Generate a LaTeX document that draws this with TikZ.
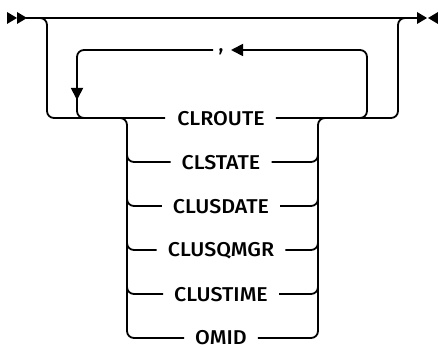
\documentclass[tikz,border=0pt]{standalone}
\usepackage{fontspec}
\usepackage{graphicx}
\setmainfont{Fira Sans}[UprightFont={* Medium}]
\usetikzlibrary{arrows.meta}
\newcommand{\kwtext}[1]{\scalebox{1.07}[1]{#1}}
\begin{document}
\begin{tikzpicture}[x=1pt,y=-1pt,
  ln/.style={line width=1.8pt, rounded corners=7pt},
  kw/.style={font=\fontsize{20}{24}\selectfont, inner sep=0pt, anchor=center},
  tip/.style={fill=black, draw=none},
  ah/.tip={Triangle[length=12pt,width=12pt]}]
\useasboundingbox (0,0) rectangle (438,347);
% start / end symbols
\fill[tip] (7,12) -- (17,18) -- (7,24) -- cycle;
\fill[tip] (17,12) -- (27,18) -- (17,24) -- cycle;
\fill[tip] (417,12) -- (427,18) -- (417,24) -- cycle;
\fill[tip] (438,12) -- (428,18) -- (438,24) -- cycle;
\coordinate (s) at (26,18);
\coordinate (e) at (418,18);
\draw[ln] (s) -- (e);
% keywords
\node[kw] (k1) at (221,119) {\kwtext{CLROUTE}};
\node[kw] (k2) at (221,163) {\kwtext{CLSTATE}};
\node[kw] (k3) at (221,207) {\kwtext{CLUSDATE}};
\node[kw] (k4) at (221,251) {\kwtext{CLUSQMGR}};
\node[kw] (k5) at (221,295) {\kwtext{CLUSTIME}};
\node[kw] (k6) at (221,338) {\kwtext{OMID}};
% comma
\node[kw, anchor=base] (cm) at (221,52) {,};
\coordinate (cl) at (213,50);
\coordinate (cr) at (231,50);
% outer bypass
\draw[ln] (34,18) -| (47,118) -- ([xshift=-12pt]k1.west |- 0,118);
\draw[ln] ([xshift=11pt]k1.east |- 0,118) -- (398,118) |- (410,18);
% repeat loop
\draw[ln,-{ah}] (cl) -| (77,100);
\draw[ln] (77,96) |- (95,118);
\draw[ln,{ah}-] (cr) -| (367,118) -- (345,118);
% choice column left
\draw[ln] (112,118) -| (127,338) -- ([xshift=-11pt]k6.west |- 0,338);
\foreach \k/\y in {k2/162,k3/206,k4/250,k5/294}
  \draw[ln] (127,140) |- ([xshift=-11pt]\k.west |- 0,\y);
% choice column right
\draw[ln] ([xshift=11pt]k6.east |- 0,338) -| (318,118) -- (332,118);
\foreach \k/\y in {k2/162,k3/206,k4/250,k5/294}
  \draw[ln] ([xshift=11pt]\k.east |- 0,\y) -| (318,140);
\end{tikzpicture}
\end{document}
